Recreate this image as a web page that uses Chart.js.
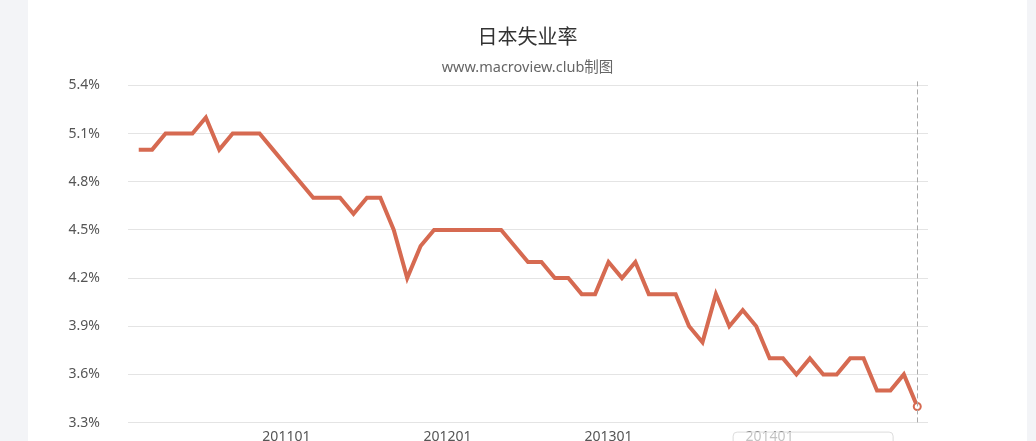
<!DOCTYPE html>
<html>
<head>
<meta charset="utf-8">
<script src="https://cdn.jsdelivr.net/npm/chart.js@4"></script>
<style>
  html, body { margin: 0; padding: 0; background: #f3f4f7; overflow: hidden; }
  #card { position: absolute; left: 28px; top: 0; width: 999px; height: 441px; background: #fff; overflow: hidden; }
  #wrap { position: absolute; left: 0; top: 0; width: 999px; height: 459px; }
</style>
</head>
<body>
<div id="card"><div id="wrap"><canvas id="c"></canvas></div></div>
<script>
// monthly labels, 201002 .. 201412
const months = [
  '201002','201003','201004','201005','201006','201007','201008','201009','201010','201011','201012',
  '201101','201102','201103','201104','201105','201106','201107','201108','201109','201110','201111','201112',
  '201201','201202','201203','201204','201205','201206','201207','201208','201209','201210','201211','201212',
  '201301','201302','201303','201304','201305','201306','201307','201308','201309','201310','201311','201312',
  '201401','201402','201403','201404','201405','201406','201407','201408','201409','201410','201411','201412'
];

// unemployment rate, %
const rate = [
  5.0, 5.0, 5.1, 5.1, 5.1, 5.2, 5.0, 5.1, 5.1, 5.1,
  5.0, 4.9, 4.8, 4.7, 4.7, 4.7, 4.6, 4.7, 4.7, 4.5,
  4.2, 4.4, 4.5, 4.5, 4.5, 4.5, 4.5, 4.5, 4.4, 4.3,
  4.3, 4.2, 4.2, 4.1, 4.1, 4.3, 4.2, 4.3, 4.1, 4.1,
  4.1, 3.9, 3.8, 4.1, 3.9, 4.0, 3.9, 3.7, 3.7, 3.6,
  3.7, 3.6, 3.6, 3.7, 3.7, 3.5, 3.5, 3.6, 3.4
];

const xTickLabels = ['201101', '201201', '201301', '201401'];
const yTicks = [3.3, 3.6, 3.9, 4.2, 4.5, 4.8, 5.1, 5.4];

const lineColor = '#d66a51';
const fontFam = '"Noto Sans", "Noto Sans CJK SC", sans-serif';
const cjkFam = '"Noto Sans CJK SC", "Noto Sans", sans-serif';
const last = rate.length - 1;

// dashed pointer line at the last month + faint tooltip box near the bottom
const pointerPlugin = {
  id: 'pointer',
  afterDatasetsDraw(chart) {
    const { ctx, chartArea, scales } = chart;
    const x = scales.x.getPixelForValue(last);
    ctx.save();
    ctx.strokeStyle = '#aaa';
    ctx.lineWidth = 1;
    ctx.setLineDash([5, 3]);
    ctx.beginPath();
    ctx.moveTo(Math.round(x) + 0.5, chartArea.top - 4);
    ctx.lineTo(Math.round(x) + 0.5, chartArea.bottom);
    ctx.stroke();
    ctx.restore();
  },
  afterDraw(chart) {
    const { ctx, scales, chartArea } = chart;
    const bx = scales.x.getPixelForValue(months.indexOf('201401')) - 37;
    const by = chartArea.bottom + 9;
    ctx.save();
    ctx.fillStyle = 'rgba(255,255,255,0.65)';
    ctx.strokeStyle = '#dcdcdc';
    ctx.lineWidth = 1;
    ctx.beginPath();
    ctx.roundRect(bx + 0.5, by + 0.5, 160, 30, 4);
    ctx.fill();
    ctx.stroke();
    ctx.restore();
  }
};

new Chart(document.getElementById('c'), {
  type: 'line',
  data: {
    datasets: [{
      data: rate.map((v, i) => ({ x: i, y: v })),
      borderColor: lineColor,
      borderWidth: 4,
      borderJoinStyle: 'miter',
      fill: false,
      tension: 0,
      pointRadius: rate.map((v, i) => i === last ? 3.5 : 0),
      pointBorderWidth: 2,
      pointBorderColor: lineColor,
      pointBackgroundColor: '#fff'
    }]
  },
  options: {
    responsive: true,
    maintainAspectRatio: false,
    animation: false,
    layout: { padding: 0 },
    plugins: {
      legend: { display: false },
      tooltip: { enabled: false },
      title: {
        display: true,
        text: '日本失业率',
        color: '#333',
        font: { family: cjkFam, size: 20, weight: 'normal' },
        padding: { top: 24, bottom: 11 }
      },
      subtitle: {
        display: true,
        text: 'www.macroview.club制图',
        color: '#666',
        font: { family: fontFam, size: 14.5, weight: 'normal' },
        padding: { top: 0, bottom: 9 }
      }
    },
    scales: {
      x: {
        type: 'linear',
        min: -0.8,
        max: 58.8,
        grid: { display: false, drawTicks: false, tickLength: 0 },
        border: { display: false },
        afterBuildTicks: (axis) => {
          axis.ticks = xTickLabels.map(l => ({ value: months.indexOf(l) }));
        },
        ticks: {
          autoSkip: false,
          maxRotation: 0,
          padding: 6,
          color: '#555',
          font: { family: fontFam, size: 14 },
          callback: (v) => months[v]
        }
      },
      y: {
        min: 3.3,
        max: 5.4,
        afterBuildTicks: (axis) => {
          axis.ticks = yTicks.map(v => ({ value: v }));
        },
        afterFit: (axis) => { axis.width = 100; },
        grid: { color: '#e4e4e4', drawTicks: false, lineWidth: 1 },
        border: { display: false },
        ticks: {
          padding: 28,
          color: '#555',
          font: { family: fontFam, size: 14 },
          callback: (v) => v.toFixed(1) + '%'
        }
      },
      // empty right-hand axis that only reserves the right margin
      yPad: {
        position: 'right',
        min: 0,
        max: 1,
        grid: { display: false },
        border: { display: false },
        ticks: { display: false },
        afterFit: (axis) => { axis.width = 99; }
      }
    }
  },
  plugins: [pointerPlugin]
});
</script>
</body>
</html>
